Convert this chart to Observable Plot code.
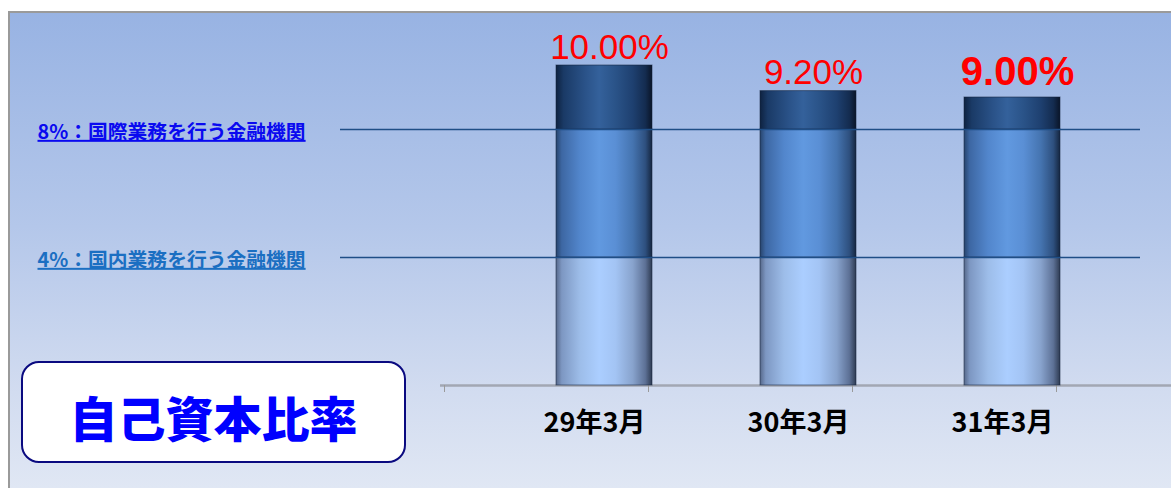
<!DOCTYPE html>
<html>
<head>
<meta charset="utf-8">
<script src="https://cdn.jsdelivr.net/npm/d3@7"></script>
<script src="https://cdn.jsdelivr.net/npm/@observablehq/plot@0.6"></script>
<style>
  html, body { margin: 0; padding: 0; background: #fff; overflow: hidden; }
  #page { position: relative; width: 1171px; height: 488px; background: #fff; }
  #frame {
    position: absolute; left: 8px; top: 11px; right: 0; bottom: 0;
    border-left: 2px solid #9a9a9a; border-top: 2px solid #9a9a9a;
    background: linear-gradient(to bottom, #98b3e3 0%, #b4c7ea 45%, #d2dcf0 80%, #e0e7f4 100%);
  }
  #chart { position: absolute; left: 0; top: 0; }
  #chart svg { overflow: visible; }
  .thr text { text-decoration: underline; text-decoration-thickness: 2px; }
  #titlebox {
    position: absolute; left: 21px; top: 361px; width: 385px; height: 102px;
    box-sizing: border-box; border: 2px solid #0a0a80; border-radius: 18px; background: #fff;
    display: flex; align-items: center; justify-content: center;
    font-family: "Noto Sans CJK JP", sans-serif; font-weight: 900; font-size: 48px; color: #0000ff;
    padding-top: 8px;
  }
</style>
</head>
<body>
<div id="page">
  <div id="frame"></div>
  <svg width="0" height="0" style="position:absolute">
    <defs>
      <linearGradient id="seg0" x1="0" x2="1" y1="0" y2="0">
        <stop offset="0" stop-color="#56688a"/>
        <stop offset="0.06" stop-color="#7d97c2"/>
        <stop offset="0.25" stop-color="#9dbde9"/>
        <stop offset="0.45" stop-color="#abceff"/>
        <stop offset="0.62" stop-color="#a3c4f4"/>
        <stop offset="0.8" stop-color="#88a3cd"/>
        <stop offset="0.93" stop-color="#5d7196"/>
        <stop offset="1" stop-color="#2e3b52"/>
      </linearGradient>
      <linearGradient id="seg1" x1="0" x2="1" y1="0" y2="0">
        <stop offset="0" stop-color="#27446c"/>
        <stop offset="0.06" stop-color="#3d67a3"/>
        <stop offset="0.25" stop-color="#5286cc"/>
        <stop offset="0.45" stop-color="#6199e0"/>
        <stop offset="0.62" stop-color="#5a8fd5"/>
        <stop offset="0.8" stop-color="#4574b0"/>
        <stop offset="0.93" stop-color="#2e507f"/>
        <stop offset="1" stop-color="#152640"/>
      </linearGradient>
      <linearGradient id="seg2" x1="0" x2="1" y1="0" y2="0">
        <stop offset="0" stop-color="#0e2240"/>
        <stop offset="0.08" stop-color="#1a3a66"/>
        <stop offset="0.3" stop-color="#2a5288"/>
        <stop offset="0.45" stop-color="#34619b"/>
        <stop offset="0.62" stop-color="#2a5388"/>
        <stop offset="0.8" stop-color="#1e4070"/>
        <stop offset="0.93" stop-color="#142c50"/>
        <stop offset="1" stop-color="#0a1528"/>
      </linearGradient>
    </defs>
  </svg>
  <div id="chart"></div>
  <div id="titlebox">自己資本比率</div>
</div>
<script>
// ---- data ----
const categories = ["29年3月", "30年3月", "31年3月"];
const ratios = [10.00, 9.20, 9.00];
const ratioLabels = ["10.00%", "9.20%", "9.00%"];
const thresholds = [8, 4];
const thresholdLabels = ["8%：国際業務を行う金融機関", "4%：国内業務を行う金融機関"];

// segments: 0–4, 4–8, 8–ratio
const levels = [...thresholds].sort((a, b) => a - b);
const segs = categories.flatMap((c, i) => {
  const bounds = [0, ...levels, ratios[i]];
  return bounds.slice(0, -1).map((b, k) => ({cat: c, y1: b, y2: bounds[k + 1], seg: k}));
});
const valueData = categories.map((c, i) => ({cat: c, v: ratios[i], label: ratioLabels[i], i}));
const thrData = thresholds.map((t, i) => ({t, label: thresholdLabels[i], i}));

const barOpts = {x: "cat", y1: "y1", y2: "y2", insetLeft: 62, insetRight: 46,
  stroke: "#14233a", strokeOpacity: 0.55, strokeWidth: 1};

const chart = Plot.plot({
  width: 1171, height: 488,
  marginLeft: 440, marginRight: 0, marginTop: 1, marginBottom: 103,
  x: {type: "band", domain: categories, range: [494, 1106], padding: 0},
  y: {domain: [0, 12], axis: null},
  style: {background: "transparent", overflow: "visible"},
  marks: [
    Plot.ruleY([0], {stroke: "#a2a7b3", strokeWidth: 2.5}),
    Plot.axisX({tickSize: 7, tickFormat: () => "", dx: -152, stroke: "#9a9a9a", label: null}),
    Plot.axisX({tickSize: 7, tickFormat: () => "", dx: 52, stroke: "#9a9a9a", label: null}),
    ...[0, 1, 2].map(k => Plot.barY(segs.filter(d => d.seg === k), {...barOpts, fill: `url(#seg${k})`})),
    Plot.ruleY(thresholds, {stroke: "#1f4e86", strokeWidth: 1.6, insetLeft: -100, insetRight: 31}),
    Plot.text(thrData, {y: "t", text: "label", frameAnchor: "left", textAnchor: "start", dx: -403, dy: 3,
      fill: d => d.i === 0 ? "#0a0af0" : "#1b6fc2", fontSize: 19.8, fontWeight: 600,
      fontFamily: "Noto Sans CJK JP", className: "thr"}),
    Plot.text(valueData.filter(d => d.i < 2), {x: "cat", y: "v", text: "label", lineAnchor: "bottom",
      dx: 13, dy: -7, fill: "#ff0000", fontSize: 35, fontFamily: "Liberation Sans"}),
    Plot.text(valueData.filter(d => d.i === 2), {x: "cat", y: "v", text: "label", lineAnchor: "bottom",
      dx: 13, dy: -13, fill: "#ff0000", fontSize: 40, fontWeight: "bold", fontFamily: "Liberation Sans"}),
    Plot.axisX({tickSize: 0, dx: -2, dy: 18, fontSize: 27, fontWeight: 600, fill: "#000",
      fontFamily: "Noto Sans CJK JP", label: null})
  ]
});
document.getElementById("chart").appendChild(chart);
</script>
</body>
</html>
